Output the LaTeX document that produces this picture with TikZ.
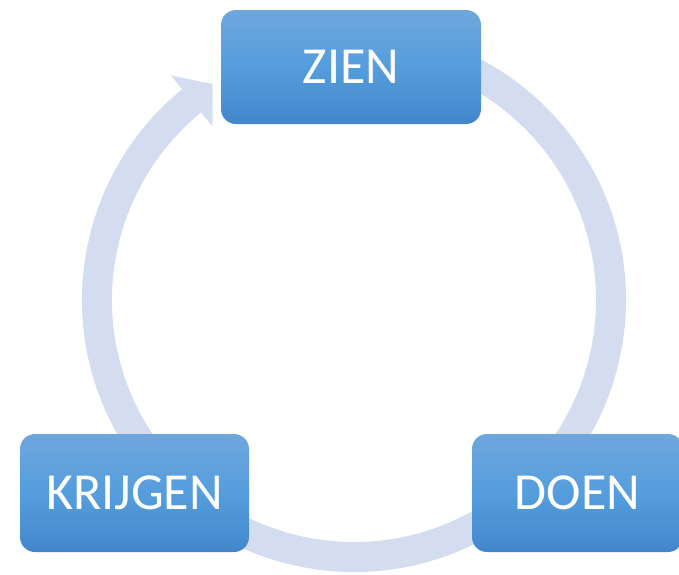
\documentclass[tikz,border=0pt]{standalone}
\usepackage{fontspec}
\setmainfont{Carlito}
\usetikzlibrary{calc,positioning}
\definecolor{ringblue}{HTML}{D3DDEF}
\definecolor{boxtop}{HTML}{6FA7DD}
\definecolor{boxmid}{HTML}{559DDD}
\definecolor{boxbot}{HTML}{4387CA}

\begin{document}
\begin{tikzpicture}
  [x=1pt,y=1pt,every node/.style={rectangle,rounded corners=15pt,top color=boxtop,bottom color=boxbot,middle color=boxmid,
   text=white,font=\fontsize{52}{60}\selectfont,inner sep=0pt}]
  \useasboundingbox (0,0) rectangle (679,-574);
  \coordinate (c) at (354,-300);

  % the cycle ring
  \draw[ringblue,line width=30pt] ($(c)+(80:257)$) arc[start angle=80,end angle=-230.8,radius=257];
  \fill[ringblue] ($(c)+(129.2:224)$) -- ($(c)+(129.2:290)$) -- ($(c)+(123.2:258)$) -- cycle;

  \node (zien) [minimum width=260pt,minimum height=114pt] at (351,-67)  {ZIEN};
  \node (doen) [minimum width=211pt,minimum height=118pt] at (577.5,-493)  {DOEN};
  \node (krijgen) [minimum width=229pt,minimum height=118pt] at (134.5,-493)  {KRIJGEN};
\end{tikzpicture}
\end{document}
